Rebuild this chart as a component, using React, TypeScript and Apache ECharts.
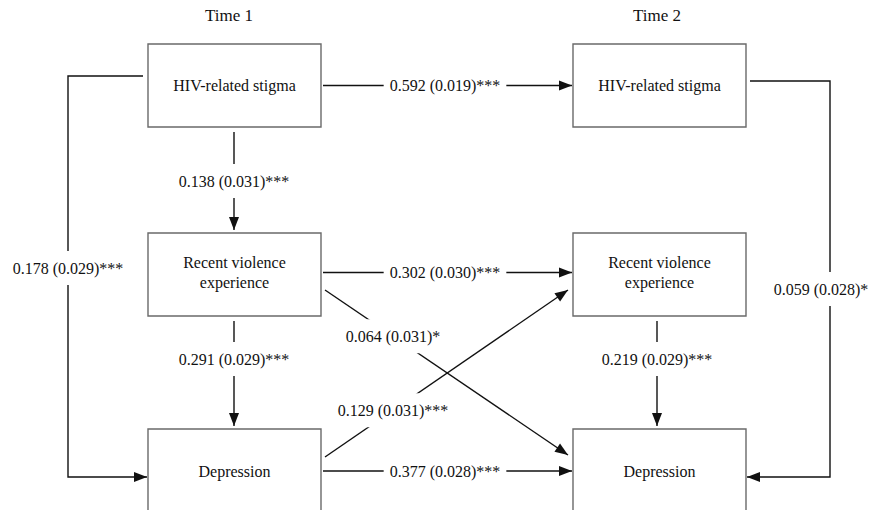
import React, { useEffect, useRef } from 'react';
import * as echarts from 'echarts';

// ---------- data ----------
const timeLabels = ['Time 1', 'Time 2'];
const variableNames = ['HIV-related stigma', 'Recent violence\nexperience', 'Depression'];
// each path endpoint = [timeIndex, variableIndex]
const pathFrom = [[0, 0], [0, 1], [0, 2], [0, 0], [0, 1], [1, 1], [0, 1], [0, 2], [0, 0], [1, 0]];
const pathTo = [[1, 0], [1, 1], [1, 2], [0, 1], [0, 2], [1, 2], [1, 2], [1, 1], [0, 2], [1, 2]];
const pathEstimates = [0.592, 0.302, 0.377, 0.138, 0.291, 0.219, 0.064, 0.129, 0.178, 0.059];
const pathSE = [0.019, 0.030, 0.028, 0.031, 0.029, 0.029, 0.031, 0.031, 0.029, 0.028];
const pathStars = ['***', '***', '***', '***', '***', '***', '*', '***', '***', '*'];

// ---------- layout (diagram space in px) ----------
const W = 875;
const H = 510;
const colLeft = [148, 573];
const colCenter = [234, 657];
const boxW = 173;
const boxH = 83;
const rowTop = [44, 233, 429];
const rowMid = [85.5, 272.5, 471];
const titleY = 15;
const titleX = [229, 657];
const vLabelY = [181, 359];
const loopX = [68, 830];
const loopLabelX = [68, 821];
const loopStartY = [76, 81];
const loopEndY = 477;
const loopLabelY = [268, 289];
const diagY = [0, 290, 457];
const FONT = 'Liberation Serif';
const LINE = '#111';

function arrowHead(p0: number[], p1: number[]) {
  const dx = p1[0] - p0[0];
  const dy = p1[1] - p0[1];
  const len = Math.sqrt(dx * dx + dy * dy) || 1;
  const ux = dx / len, uy = dy / len;
  const L = 13, hw = 5;
  const bx = p1[0] - ux * L, by = p1[1] - uy * L;
  return [p1, [bx - uy * hw, by + ux * hw], [bx + uy * hw, by - ux * hw]];
}

export default function App() {
  const ref = useRef<HTMLDivElement>(null);
  useEffect(() => {
    if (!ref.current) return;
    const chart = echarts.init(ref.current, null, { renderer: 'svg' });

    const nodeData: any[] = [];
    timeLabels.forEach((_, ti) => variableNames.forEach((v, vi) => nodeData.push({ value: [ti, vi], name: v })));
    const pathData = pathEstimates.map((e, i) => ({ value: [i, e], name: String(i) }));
    const titleData = timeLabels.map((t, i) => ({ value: [i, 0], name: t }));

    const option: any = {
      animation: false,
      backgroundColor: '#fff',
      textStyle: { fontFamily: FONT },
      grid: { left: 0, right: 0, top: 0, bottom: 0 },
      xAxis: { type: 'value', min: 0, max: W, show: false },
      yAxis: { type: 'value', min: 0, max: H, inverse: true, show: false },
      series: [
        {
          type: 'custom',
          z: 1,
          silent: true,
          data: pathData,
          renderItem: (params: any, api: any) => {
            const i = params.dataIndex;
            const f = pathFrom[i];
            const t = pathTo[i];
            let pts: number[][];
            let lab: number[];
            if (f[1] === t[1]) {
              const y = rowMid[f[1]];
              pts = [[colLeft[0] + boxW + 2, y], [colLeft[1] - 1, y]];
              lab = [445, y];
            } else if (f[0] === t[0] && t[1] - f[1] === 1) {
              const x = colCenter[f[0]];
              pts = [[x, rowTop[f[1]] + boxH + 5], [x, rowTop[t[1]] - 3]];
              lab = [x, vLabelY[f[1]]];
            } else if (f[0] === t[0]) {
              const lx = loopX[f[0]];
              if (f[0] === 0) {
                pts = [[colLeft[0] - 5, loopStartY[0]], [lx, loopStartY[0]], [lx, loopEndY], [colLeft[0] - 1, loopEndY]];
              } else {
                pts = [[colLeft[1] + boxW + 4, loopStartY[1]], [lx, loopStartY[1]], [lx, loopEndY], [colLeft[1] + boxW + 1, loopEndY]];
              }
              lab = [loopLabelX[f[0]], loopLabelY[f[0]]];
            } else {
              const s = [colLeft[0] + boxW + 4, diagY[f[1]]];
              const e = [colLeft[1] - 5, diagY[t[1]] - (t[1] === 2 ? 2 : 0)];
              pts = [s, e];
              const fr = 0.28;
              lab = [s[0] + (e[0] - s[0]) * fr, s[1] + (e[1] - s[1]) * fr];
            }
            const P = pts.map((p) => api.coord(p));
            const L = api.coord(lab);
            const n = P.length;
            const head = arrowHead(P[n - 2], P[n - 1]);
            const text = `${pathEstimates[i].toFixed(3)} (${pathSE[i].toFixed(3)})${pathStars[i]}`;
            return {
              type: 'group',
              children: [
                { type: 'polyline', shape: { points: P }, style: { stroke: LINE, lineWidth: 1.4, fill: null } },
                { type: 'polygon', shape: { points: head }, style: { fill: LINE, stroke: null } },
                {
                  type: 'text', x: L[0], y: L[1], z2: 10,
                  style: {
                    text, fill: '#111', fontSize: 16, fontFamily: FONT,
                    align: 'center', verticalAlign: 'middle',
                    backgroundColor: '#fff', padding: [9, 6],
                  },
                },
              ],
            };
          },
        },
        {
          type: 'custom',
          z: 2,
          silent: true,
          data: nodeData,
          renderItem: (params: any, api: any) => {
            const ti = api.value(0);
            const vi = api.value(1);
            const a = api.coord([colLeft[ti], rowTop[vi]]);
            const b = api.coord([colLeft[ti] + boxW, rowTop[vi] + boxH]);
            const c = api.coord([colLeft[ti] + boxW / 2, rowMid[vi]]);
            return {
              type: 'group',
              children: [
                { type: 'rect', shape: { x: a[0], y: a[1], width: b[0] - a[0], height: b[1] - a[1] }, style: { fill: '#fff', stroke: '#6a6a6a', lineWidth: 1.4 } },
                {
                  type: 'text', x: c[0], y: c[1],
                  style: { text: variableNames[vi], fill: '#111', fontSize: 16, fontFamily: FONT, align: 'center', verticalAlign: 'middle', lineHeight: 20 },
                },
              ],
            };
          },
        },
        {
          type: 'custom',
          z: 3,
          silent: true,
          data: titleData,
          renderItem: (params: any, api: any) => {
            const i = params.dataIndex;
            const p = api.coord([titleX[i], titleY]);
            return {
              type: 'text', x: p[0], y: p[1],
              style: { text: timeLabels[i], fill: '#111', fontSize: 17, fontFamily: FONT, align: 'center', verticalAlign: 'middle' },
            };
          },
        },
      ],
    };
    chart.setOption(option);
    return () => chart.dispose();
  }, []);
  return <div ref={ref} style={{ position: 'fixed', left: 0, top: 0, width: W, height: H, background: '#fff' }} />;
}
